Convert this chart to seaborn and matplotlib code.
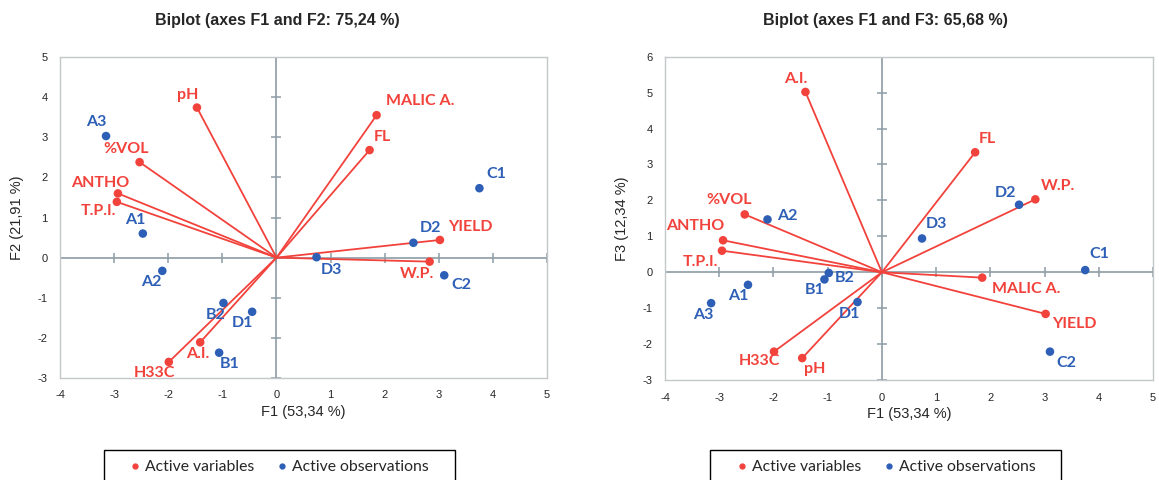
import numpy as np
import pandas as pd
import matplotlib
matplotlib.use("Agg")
import matplotlib.pyplot as plt
from matplotlib.patches import Rectangle
import seaborn as sns

# variables (red) - coordinates on F1, F2, F3
var_names = ["pH", "%VOL", "ANTHO", "T.P.I.", "MALIC A.", "FL", "YIELD", "W.P.", "A.I.", "H33C"]
var_f1 = [-1.47, -2.53, -2.93, -2.95, 1.85, 1.72, 3.02, 2.83, -1.41, -1.99]
var_f2 = [3.74, 2.38, 1.60, 1.39, 3.55, 2.68, 0.44, -0.10, -2.11, -2.60]
var_f3 = [-2.39, 1.61, 0.89, 0.60, -0.15, 3.34, -1.16, 2.03, 5.02, -2.21]

# observations (blue)
obs_names = ["A1", "A2", "A3", "B1", "B2", "C1", "C2", "D1", "D2", "D3"]
obs_f1 = [-2.47, -2.11, -3.15, -1.06, -0.98, 3.75, 3.10, -0.45, 2.53, 0.74]
obs_f2 = [0.60, -0.33, 3.03, -2.37, -1.13, 1.73, -0.44, -1.35, 0.37, 0.01]
obs_f3 = [-0.35, 1.47, -0.86, -0.20, -0.02, 0.06, -2.21, -0.83, 1.88, 0.94]

titles = ["Biplot (axes F1 and F2: 75,24 %)", "Biplot (axes F1 and F3: 65,68 %)"]
xlab = "F1 (53,34 %)"
ylabs = ["F2 (21,91 %)", "F3 (12,34 %)"]

RED = "#f2423c"
BLUE = "#2e5fb6"
ZERO = "#8d9ca6"
W, H = 1159, 480

# label offsets in pixels (dx, dy), per chart
off_left = {"pH": (-9, 13), "%VOL": (-13, 13), "ANTHO": (-18, 10), "T.P.I.": (-18, -9),
            "MALIC A.": (44, 14), "FL": (13, 13), "YIELD": (30, 13), "W.P.": (-13, -12),
            "A.I.": (-2, -12), "H33C": (-14, -11),
            "A1": (-8, 14), "A2": (-11, -11), "A3": (-10, 14), "B1": (10, -11), "B2": (-8, -12),
            "C1": (17, 14), "C2": (17, -10), "D1": (-10, -11), "D2": (17, 15), "D3": (15, -13)}
off_right = {"pH": (12, -11), "%VOL": (-16, 14), "ANTHO": (-28, 14), "T.P.I.": (-22, -11),
             "MALIC A.": (44, -11), "FL": (12, 13), "YIELD": (29, -10), "W.P.": (23, 13),
             "A.I.": (-10, 13), "H33C": (-15, -9),
             "A1": (-10, -11), "A2": (20, 3), "A3": (-8, -12), "B1": (-10, -11), "B2": (16, -5),
             "C1": (14, 16), "C2": (16, -11), "D1": (-8, -12), "D2": (-14, 12), "D3": (14, 14)}

sns.set_style("white")
plt.rcParams["font.family"] = ["Liberation Sans", "DejaVu Sans"]
plt.rcParams["axes.unicode_minus"] = False

fig = plt.figure(figsize=(W / 100, H / 100), dpi=100)
ax1 = fig.add_axes([0.0518, 0.2125, 0.4202, 0.66875])
ax2 = fig.add_axes([0.5738, 0.2083, 0.4210, 0.6735])

# (axes, F-values vars, F-values obs, ylim, offsets, legend box left/right px, legend marker x px)
charts = [
    (ax1, var_f2, obs_f2, (-3, 5), off_left, (104, 455), 135),
    (ax2, var_f3, obs_f3, (-3, 6), off_right, (710, 1061), 742),
]

LEG_FS = 11.3

for i, (ax, vy, oy, ylim, offs, box, mx) in enumerate(charts):
    ax.axhline(0, color=ZERO, lw=1.2, zorder=1)
    ax.axvline(0, color=ZERO, lw=1.2, zorder=1)
    # small cross ticks on the zero lines
    xt = np.arange(-4, 6)
    yt = np.arange(ylim[0], ylim[1] + 1)
    ax.plot(xt, np.zeros(len(xt)), ls="none", marker="|", ms=7, mew=1.1, color=ZERO, zorder=1)
    ax.plot(np.zeros(len(yt)), yt, ls="none", marker="_", ms=7, mew=1.1, color=ZERO, zorder=1)

    for x, y in zip(var_f1, vy):
        ax.plot([0, x], [0, y], color=RED, lw=1.3, zorder=2)

    vdf = pd.DataFrame({"F1": var_f1, "F": vy, "name": var_names, "kind": "Active variables"})
    odf = pd.DataFrame({"F1": obs_f1, "F": oy, "name": obs_names, "kind": "Active observations"})
    df = pd.concat([vdf, odf], ignore_index=True)
    sns.scatterplot(data=df, x="F1", y="F", hue="kind",
                    palette={"Active variables": RED, "Active observations": BLUE},
                    s=38, edgecolor="none", ax=ax, zorder=3, legend=False)

    for _, r in df.iterrows():
        col = RED if r["kind"] == "Active variables" else BLUE
        dx, dy = offs[r["name"]]
        ax.annotate(r["name"], (r["F1"], r["F"]), xytext=(dx, dy), textcoords="offset pixels",
                    ha="center", va="center", color=col, fontsize=11.5, fontweight="bold",
                    family=["Lato", "DejaVu Sans"], zorder=4)

    ax.set_xlim(-4, 5)
    ax.set_ylim(*ylim)
    ax.set_xticks(xt)
    ax.set_yticks(yt)
    ax.tick_params(length=0, labelsize=8, pad=9)
    for sp in ax.spines.values():
        sp.set_color("#c3c7ca")
        sp.set_linewidth(1.0)
    ax.set_xlabel(xlab, fontsize=10.5, labelpad=3)
    ax.set_ylabel(ylabs[i], fontsize=10.5, labelpad=10)

    # legend (frameless) + its box drawn separately, partly cut by the figure edge
    h1 = plt.Line2D([], [], ls="none", marker="o", ms=3.5, color=RED)
    h2 = plt.Line2D([], [], ls="none", marker="o", ms=3.5, color=BLUE)
    half = 0.3 * LEG_FS * 100 / 72
    ax.legend([h1, h2], ["Active variables", "Active observations"],
              loc="center left", bbox_to_anchor=((mx - half) / W, 1 - 467 / H),
              bbox_transform=fig.transFigure, ncol=2, frameon=False,
              borderpad=0, borderaxespad=0, handlelength=0.6,
              handletextpad=0.34, columnspacing=1.47,
              prop={"family": ["Lato", "DejaVu Sans"], "size": LEG_FS})
    fig.patches.append(Rectangle((box[0] / W, -0.02), (box[1] - box[0]) / W,
                                 (1 - 450 / H) + 0.02, transform=fig.transFigure,
                                 fill=False, edgecolor="black", lw=1.0))

fig.text(277 / W, 1 - 20 / H, titles[0], ha="center", va="center",
         fontsize=11.5, fontweight="bold")
fig.text(885 / W, 1 - 20 / H, titles[1], ha="center", va="center",
         fontsize=11.5, fontweight="bold")

fig.savefig("out.png", dpi=100)
